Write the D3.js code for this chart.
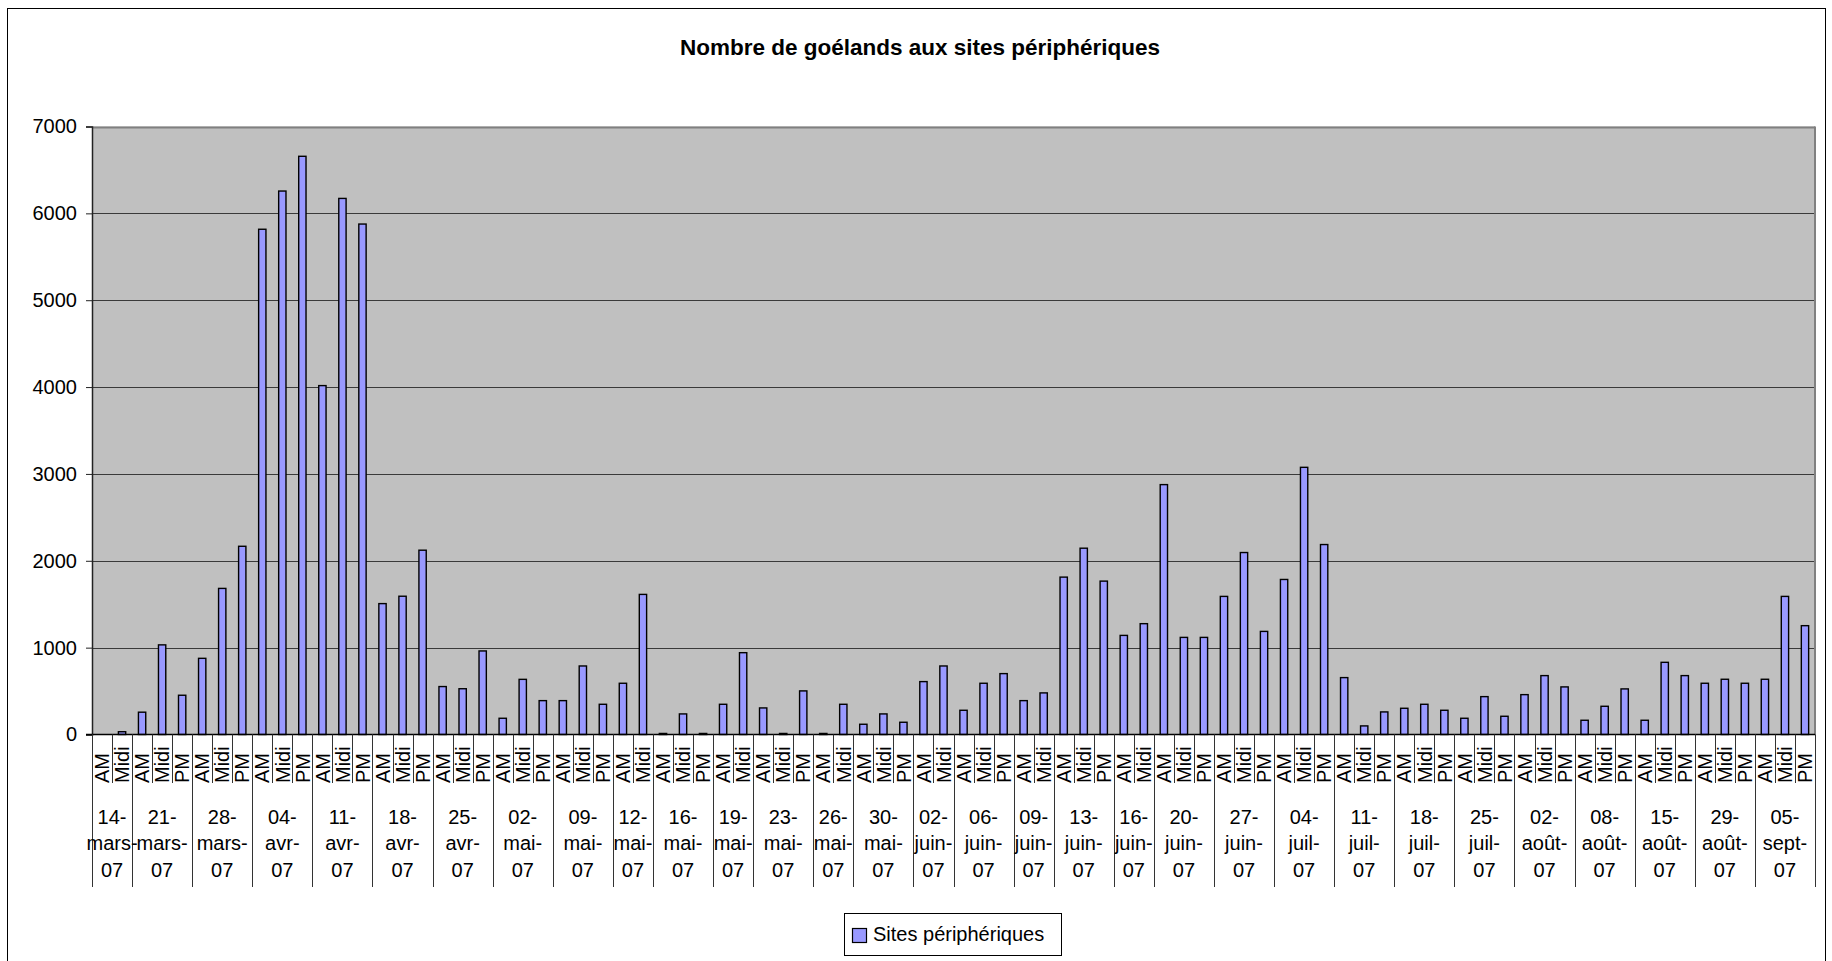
<!DOCTYPE html>
<html>
<head>
<meta charset="utf-8">
<script src="https://cdn.jsdelivr.net/npm/d3@7"></script>
<style>
  html, body { margin: 0; padding: 0; background: #fff; }
  svg { display: block; font-family: Arial, "Liberation Sans", sans-serif; }
</style>
</head>
<body>
<svg id="chart" width="1832" height="961"></svg>
<script>
// ---------------- DATA ----------------
const chartTitle = "Nombre de goélands aux sites périphériques";
const seriesName = "Sites périphériques";

const groupLabels = [
  "14-mars-07", "21-mars-07", "28-mars-07", "04-avr-07", "11-avr-07", "18-avr-07", "25-avr-07",
  "02-mai-07", "09-mai-07", "12-mai-07", "16-mai-07", "19-mai-07", "23-mai-07", "26-mai-07", "30-mai-07",
  "02-juin-07", "06-juin-07", "09-juin-07", "13-juin-07", "16-juin-07", "20-juin-07", "27-juin-07",
  "04-juil-07", "11-juil-07", "18-juil-07", "25-juil-07",
  "02-août-07", "08-août-07", "15-août-07", "29-août-07", "05-sept-07"
];

const groupPeriods = [
  ["AM", "Midi"], ["AM", "Midi", "PM"], ["AM", "Midi", "PM"], ["AM", "Midi", "PM"], ["AM", "Midi", "PM"],
  ["AM", "Midi", "PM"], ["AM", "Midi", "PM"], ["AM", "Midi", "PM"], ["AM", "Midi", "PM"], ["AM", "Midi"],
  ["AM", "Midi", "PM"], ["AM", "Midi"], ["AM", "Midi", "PM"], ["AM", "Midi"], ["AM", "Midi", "PM"],
  ["AM", "Midi"], ["AM", "Midi", "PM"], ["AM", "Midi"], ["AM", "Midi", "PM"], ["AM", "Midi"],
  ["AM", "Midi", "PM"], ["AM", "Midi", "PM"], ["AM", "Midi", "PM"], ["AM", "Midi", "PM"], ["AM", "Midi", "PM"],
  ["AM", "Midi", "PM"], ["AM", "Midi", "PM"], ["AM", "Midi", "PM"], ["AM", "Midi", "PM"], ["AM", "Midi", "PM"],
  ["AM", "Midi", "PM"]
];

const values = [
  0, 40,
  265, 1040, 460,
  885, 1690, 2175,
  5825, 6265, 6665,
  4025, 6180, 5885,
  1515, 1600, 2130,
  560, 535, 970,
  195, 643, 398,
  398, 797, 356,
  598, 1621,
  20, 245, 20,
  356, 950,
  314, 20, 510,
  20, 356,
  126, 245, 149,
  617, 797,
  287, 598, 709,
  398, 487,
  1820, 2153, 1774,
  1149, 1284,
  2885, 1126, 1126,
  1598, 2103, 1195,
  1793, 3084, 2195,
  663, 107, 268,
  310, 356, 287,
  195, 444, 218,
  467, 686, 556,
  172, 333, 533,
  172, 839, 686,
  598, 644, 598,
  644, 1598, 1261
];

const yTicks = [0, 1000, 2000, 3000, 4000, 5000, 6000, 7000];

// ---------------- LAYOUT ----------------
const W = 1832, H = 961;
const plot = { left: 92, right: 1815, top: 126.5, bottom: 734.5 };
const barColor = "#9999FF";
const fontSize = 20;

const svg = d3.select("#chart");

// build flat category list
const cats = [];
groupPeriods.forEach((ps, gi) => ps.forEach(p => cats.push({ group: gi, period: p })));

const x = d3.scaleBand()
  .domain(d3.range(cats.length))
  .range([plot.left, plot.right])
  .paddingInner(0).paddingOuter(0);

const y = d3.scaleLinear().domain([0, 7000]).range([plot.bottom, plot.top]);

// outer chart border
svg.append("rect")
  .attr("x", 7.5).attr("y", 8.5)
  .attr("width", 1818).attr("height", 960)
  .attr("fill", "#fff").attr("stroke", "#000").attr("stroke-width", 1);

// title
svg.append("text")
  .attr("x", 920)
  .attr("y", 55)
  .attr("text-anchor", "middle")
  .attr("font-size", 22.5)
  .attr("font-weight", "bold")
  .text(chartTitle);

// plot background
svg.append("rect")
  .attr("x", plot.left).attr("y", plot.top)
  .attr("width", plot.right - plot.left).attr("height", plot.bottom - plot.top)
  .attr("fill", "#C0C0C0");

// gridlines
svg.append("g").selectAll("line")
  .data(yTicks.filter(t => t > 0))
  .join("line")
  .attr("x1", plot.left).attr("x2", plot.right)
  .attr("y1", d => Math.round(y(d)) + 0.5).attr("y2", d => Math.round(y(d)) + 0.5)
  .attr("stroke", d => d === 7000 ? "#808080" : "#3a3a3a")
  .attr("stroke-width", d => d === 7000 ? 2 : 1.2);

// right plot border
svg.append("line")
  .attr("x1", plot.right).attr("x2", plot.right)
  .attr("y1", plot.top).attr("y2", plot.bottom)
  .attr("stroke", "#808080").attr("stroke-width", 2);

// bars
const bw = x.bandwidth() / 2.3 - 1.4;
svg.append("g").selectAll("rect")
  .data(values)
  .join("rect")
  .attr("x", (d, i) => x(i) + x.bandwidth() / 2 - bw / 2)
  .attr("y", d => y(d) + 0.7)
  .attr("width", bw)
  .attr("height", d => Math.max(0, y(0) - y(d) - 0.7))
  .attr("fill", barColor)
  .attr("stroke", "#000")
  .attr("stroke-width", 1.4)
  .style("display", d => d > 0 ? null : "none");

// y axis
const yAxis = d3.axisLeft(y).tickValues(yTicks).tickSize(6).tickPadding(9).tickFormat(d3.format("d"));
const gy = svg.append("g").attr("transform", `translate(${plot.left},0)`).call(yAxis);
gy.select(".domain").attr("stroke", "#222").attr("stroke-width", 1.5);
gy.selectAll(".tick line").attr("stroke", "#222");
gy.selectAll(".tick text").attr("font-size", fontSize).attr("font-family", "Arial, 'Liberation Sans', sans-serif").attr("fill", "#000");

// x axis baseline
svg.append("line")
  .attr("x1", plot.left - 6).attr("x2", plot.right)
  .attr("y1", plot.bottom).attr("y2", plot.bottom)
  .attr("stroke", "#000").attr("stroke-width", 1.5);

// category boundary ticks
const xAxisG = svg.append("g");
const boundaries = d3.range(cats.length + 1).map(i => i < cats.length ? x(i) : plot.right);
xAxisG.selectAll("line.minor")
  .data(boundaries)
  .join("line")
  .attr("class", "minor")
  .attr("x1", d => Math.round(d) + 0.5).attr("x2", d => Math.round(d) + 0.5)
  .attr("y1", plot.bottom).attr("y2", 783)
  .attr("stroke", "#333").attr("stroke-width", 1);

// group separators
const groupStart = [];
let acc = 0;
groupPeriods.forEach(ps => { groupStart.push(acc); acc += ps.length; });
const groupBounds = groupStart.map(s => x(s)).concat([plot.right]);
xAxisG.selectAll("line.major")
  .data(groupBounds)
  .join("line")
  .attr("class", "major")
  .attr("x1", d => Math.round(d) + 0.5).attr("x2", d => Math.round(d) + 0.5)
  .attr("y1", plot.bottom).attr("y2", 887)
  .attr("stroke", "#333").attr("stroke-width", 1);

// period labels (rotated)
xAxisG.selectAll("text.period")
  .data(cats)
  .join("text")
  .attr("class", "period")
  .attr("transform", (d, i) => `translate(${x(i) + x.bandwidth() / 2},783) rotate(-90)`)
  .attr("dy", "0.36em")
  .attr("text-anchor", "start")
  .attr("font-size", fontSize)
  .text(d => d.period);

// group labels (3 lines)
groupLabels.forEach((lab, gi) => {
  const parts = lab.split("-");
  const lines = parts.map((p, k) => k < parts.length - 1 ? p + "-" : p);
  const cx = (groupBounds[gi] + groupBounds[gi + 1]) / 2;
  const t = xAxisG.append("text")
    .attr("text-anchor", "middle")
    .attr("font-size", fontSize);
  lines.forEach((ln, k) => {
    t.append("tspan").attr("x", cx).attr("y", 823.5 + k * 26.6).text(ln);
  });
});

// legend
const lg = svg.append("g");
lg.append("rect")
  .attr("x", 844.5).attr("y", 913.5).attr("width", 217).attr("height", 42)
  .attr("fill", "#fff").attr("stroke", "#000").attr("stroke-width", 1);
lg.append("rect")
  .attr("x", 852.5).attr("y", 928.5).attr("width", 14).attr("height", 14)
  .attr("fill", barColor).attr("stroke", "#000").attr("stroke-width", 1.2);
lg.append("text")
  .attr("x", 873).attr("y", 941)
  .attr("font-size", fontSize)
  .text(seriesName);
</script>
</body>
</html>
